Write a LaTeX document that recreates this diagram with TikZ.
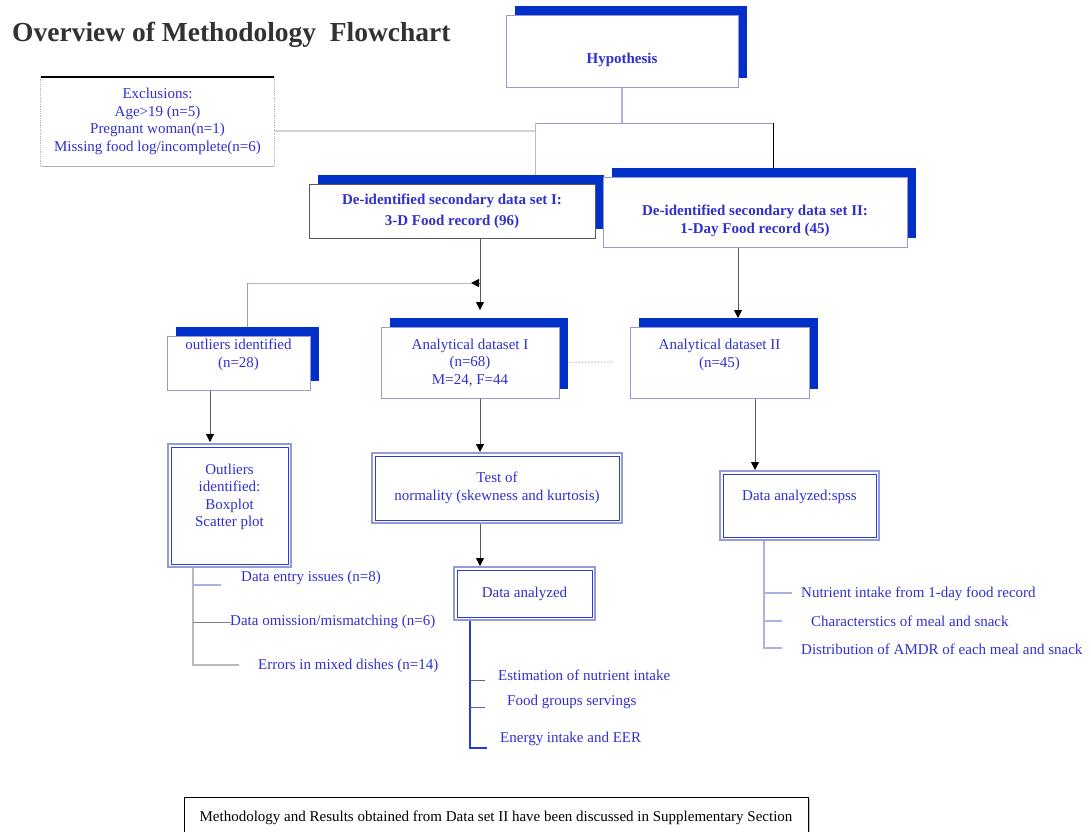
\documentclass[tikz,border=0pt]{standalone}
\usepackage{fontspec}
\setmainfont{Liberation Serif}
\usetikzlibrary{positioning,arrows.meta,shadows,backgrounds}

\definecolor{shblue}{RGB}{0,48,200}
\definecolor{txtblue}{RGB}{48,48,205}
\definecolor{frame}{RGB}{150,155,215}
\definecolor{inblue}{RGB}{40,60,220}
\definecolor{lav}{RGB}{170,178,225}
\definecolor{titlegray}{RGB}{50,50,50}

\begin{document}
\begin{tikzpicture}[
    x=1pt, y=-1pt,
    font=\fontsize{15}{17.5}\selectfont,
    every node/.style={text=txtblue, align=center, inner sep=0pt},
    bold/.style={font=\fontsize{15}{17.5}\selectfont\bfseries},
    shbox/.style={draw=frame, line width=0.9pt, fill=white,
        drop shadow={shadow xshift=9pt, shadow yshift=9pt, fill=shblue, opacity=1}},
    dbox/.style={draw=inblue, line width=0.8pt, fill=white,
        preaction={draw=frame, line width=8pt},
        preaction={draw=white, line width=4.4pt}},
    item/.style={anchor=west},
    arr/.style={-{Triangle[length=8pt,width=8pt,color=black]}, draw=gray!70!black, line width=0.8pt},
    gline/.style={draw=gray!55, line width=1pt},
    lline/.style={draw=lav, line width=1.4pt}
]
\useasboundingbox (0,0) rectangle (1091,831);

\node[anchor=west, text=titlegray, font=\fontsize{27.5}{30}\selectfont\bfseries] (title) at (12,35) {Overview of Methodology\ \ Flowchart};

\node[shbox, minimum width=232, minimum height=72] (hyp) at (622,51) {};
\node[bold] (hypt) at ([yshift=-9pt]hyp.center) {Hypothesis};

\node[fill=white, minimum width=233, minimum height=89] (excl) at (157.5,121.5) {Exclusions:\\Age>19 (n=5)\\Pregnant woman(n=1)\\Missing food log/incomplete(n=6)};
\draw[gray!55, densely dotted, line width=0.8pt] (excl.north west) -- (excl.south west);
\draw[gray!55, densely dotted, line width=0.8pt] (excl.north east) -- (excl.south east);
\draw[gray!60, line width=1pt] (excl.south west) -- (excl.south east);
\draw[black, line width=1.6pt] (excl.north west) -- (excl.north east);

\node[shbox, draw=black!65, minimum width=286, minimum height=54, bold] (dsI) at (452,211) {De-identified secondary data set I:\\[3.5pt]3-D Food record (96)};
\node[shbox, minimum width=304, minimum height=70] (dsII) at (755,212) {};
\node[bold] (dsIIt) at ([yshift=-9pt]dsII.center) {De-identified secondary data set II:\\1-Day Food record (45)};

\node[shbox, minimum width=143, minimum height=54] (outl) at (238.5,363) {};
\node (outlt) at ([yshift=8pt]outl.center) {outliers identified\\(n=28)};
\node[shbox, minimum width=178, minimum height=71] (anaI) at (470,362.5) {Analytical dataset I\\(n=68)\\M=24, F=44};
\node[shbox, minimum width=179, minimum height=71] (anaII) at (719.5,362.5) {};
\node (anaIIt) at ([yshift=7.5pt]anaII.center) {Analytical dataset II\\(n=45)};

\node[dbox, minimum width=117, minimum height=117] (outl2) at (229.5,505.5) {};
\node (outl2t) at ([yshift=8.5pt]outl2.center) {Outliers\\identified:\\Boxplot\\Scatter plot};
\node[dbox, minimum width=244, minimum height=64] (norm) at (497,488) {Test of\\normality (skewness and kurtosis)};
\node[dbox, minimum width=135, minimum height=47] (anal) at (524.5,593.5) {Data analyzed};
\node[dbox, minimum width=153, minimum height=63] (spss) at (799.5,505.5) {};
\node (spsst) at ([yshift=8.5pt]spss.center) {Data analyzed:spss};

\node[item] (it1) at (241,578) {Data entry issues (n=8)};
\node[item] (it2) at (230,622) {Data omission/mismatching (n=6)};
\node[item] (it3) at (258,666) {Errors in mixed dishes (n=14)};
\node[item] (it4) at (498,675) {Estimation of nutrient intake};
\node[item] (it5) at (507,702) {Food groups servings};
\node[item] (it6) at (500,739) {Energy intake and EER};
\node[item] (it7) at (801,594) {Nutrient intake from 1-day food record};
\node[item] (it8) at (811,621) {Characterstics of meal and snack};
\node[item] (it9) at (801,649) {Distribution of AMDR of each meal and snack};

\node[draw=black, line width=0.8pt, fill=white, text=black, minimum width=624, minimum height=42,
    drop shadow={shadow xshift=2pt, shadow yshift=-2pt, fill=gray!45, opacity=1}] (foot) at (496,818) {Methodology and Results obtained from Data set II have been discussed in Supplementary Section};

\begin{scope}[on background layer]
\coordinate (jl) at (535,123);
\coordinate (jr) at (773,123);
\coordinate (jx) at (535,131);
\draw[lline, line width=2pt] (hyp.south) -- (hyp.south |- jl);
\draw[draw=frame, line width=1pt] (jl) -- (jr);
\draw[gline] (jl) -- (jl |- dsI.north);
\draw[black, line width=0.9pt] (jr) -- (jr |- dsII.north);
\draw[draw=gray!35, line width=2pt] (excl.east |- jx) -- (jx);

\coordinate (b1) at (480,283);
\coordinate (b1t) at (471,283);
\coordinate (b2) at (247,283);
\coordinate (a1) at (480,310);
\draw[arr] (b1 |- dsI.south) -- (a1);
\draw[arr] (b1) -- (b1t);
\draw[gline] (b1t) -- (b2);
\draw[draw=frame, line width=1pt] (b2) -- (b2 |- outl.north);

\coordinate (c1) at (210,442);
\coordinate (c2) at (480,452);
\coordinate (c3) at (480,566);
\coordinate (c4) at (755,470);
\coordinate (c5) at (738,318);
\coordinate (d1) at (612,362);
\draw[arr] (c1 |- outl.south) -- (c1);
\draw[arr] (c2 |- anaI.south) -- (c2);
\draw[arr] (c3 |- norm.south) -- (c3);
\draw[arr] (c4 |- anaII.south) -- (c4);
\draw[arr] (c5 |- dsII.south) -- (c5);
\draw[gray!50, dotted, line width=1.2pt] (anaI.east) -- (d1);

\coordinate (o0) at (193,665);
\coordinate (t1) at (221,585);
\coordinate (t2) at (231,622);
\coordinate (t3) at (239,665);
\draw[gline, line width=1.5pt] (o0 |- outl2.south) -- (o0) -- (t3);
\draw[lline] (o0 |- t1) -- (t1);
\draw[gray, line width=0.6pt] (o0 |- t2) -- (t2);

\coordinate (p0) at (470,748);
\coordinate (p1) at (485,680);
\coordinate (p2) at (485,707);
\coordinate (p3) at (487,748);
\draw[draw=inblue, line width=1.2pt] (p0 |- anal.south) -- (p0) -- (p3);
\draw[draw=inblue!45!gray, line width=1pt] (p0 |- p1) -- (p1);
\draw[draw=inblue!45!gray, line width=1pt] (p0 |- p2) -- (p2);

\coordinate (q0) at (764,648);
\coordinate (q1) at (792,593);
\coordinate (q2) at (782,621);
\coordinate (q3) at (782,648);
\draw[lline] (q0 |- spss.south) -- (q0) -- (q3);
\draw[lline] (q0 |- q1) -- (q1);
\draw[lline] (q0 |- q2) -- (q2);
\end{scope}
\end{tikzpicture}
\end{document}
